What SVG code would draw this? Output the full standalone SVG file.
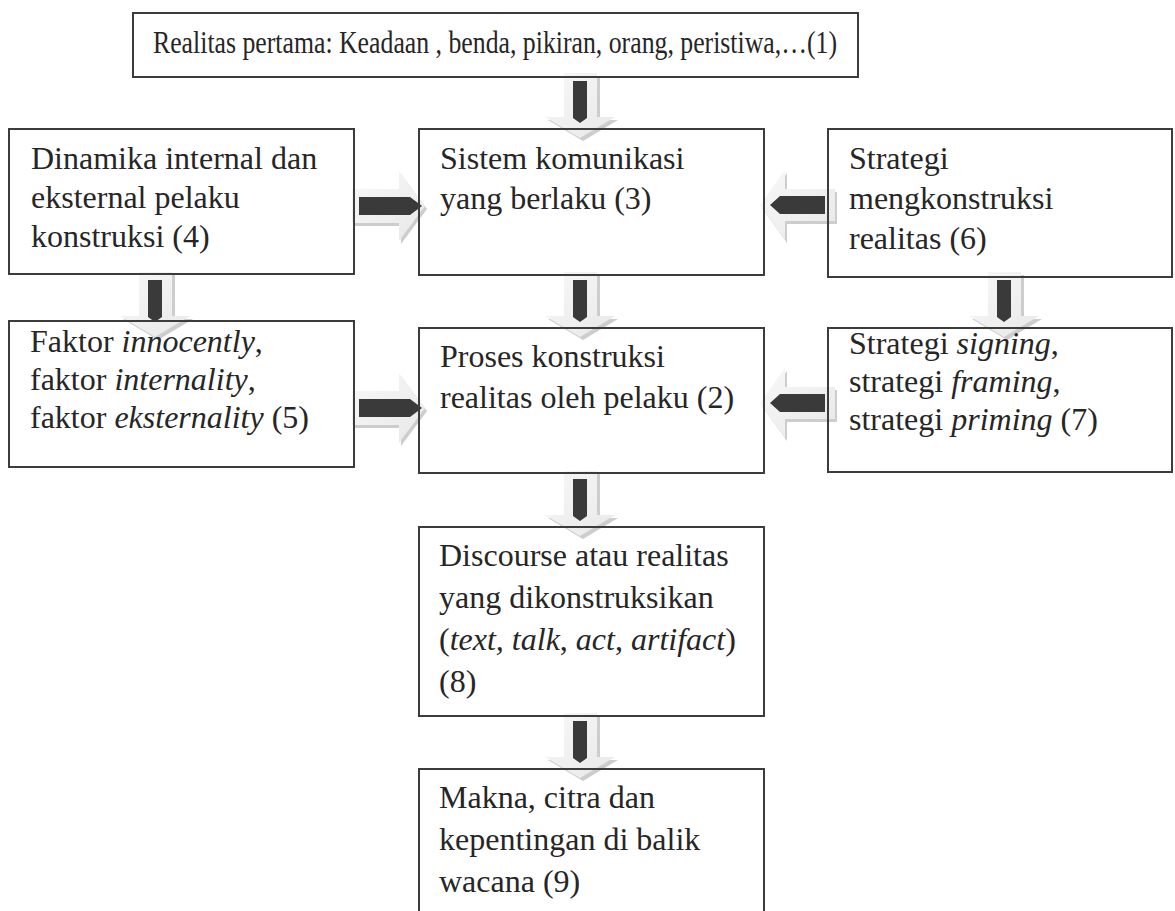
<svg xmlns="http://www.w3.org/2000/svg" width="1175" height="911" viewBox="0 0 1175 911">
<style>
.box{fill:none;stroke:#3c3c3c;stroke-width:2}
.t{font-family:"Liberation Serif","Times New Roman",serif;font-size:32px;fill:#262626}
.t1{font-family:"Liberation Serif","Times New Roman",serif;font-size:31px;fill:#262626}
.i{font-style:italic}
.sh{fill:#cdcdcd}
.out{fill:url(#lg)}
.in{fill:#3a3a3a}
</style>
<defs>
<linearGradient id="lg" x1="0" y1="0" x2="1" y2="1">
<stop offset="0" stop-color="#f8f8f8"/>
<stop offset="1" stop-color="#e8e8e8"/>
</linearGradient>
<g id="down">
<path class="sh" transform="translate(3,3)" d="M-16 0H17V44H35L0 65L-35 44H-16Z"/>
<path class="out" d="M-16 0H17V44H35L0 65L-35 44H-16Z"/>
<path class="in" d="M-7 8H7V45L0 50L-7 45Z"/>
</g>
<g id="right">
<path class="sh" transform="translate(2,3)" d="M0 -17H47V-35L73 0L47 35V17H0Z"/>
<path class="out" d="M0 -17H47V-35L73 0L47 35V17H0Z"/>
<path class="in" d="M7 -9H58L70 0L58 9H7Z"/>
</g>
<g id="left">
<path class="sh" transform="translate(2,3)" d="M0 0L25 -35V-16H75V16H25V35Z"/>
<path class="out" d="M0 0L25 -35V-16H75V16H25V35Z"/>
<path class="in" d="M10 0L20 -9H65V9H20Z"/>
</g>
</defs>
<rect width="1175" height="911" fill="#ffffff"/>
<g id="connectors">
<use href="#down" transform="translate(580,73)"/>
<use href="#down" transform="translate(155,272)"/>
<use href="#down" transform="translate(580,272)"/>
<use href="#down" transform="translate(1004,272)"/>
<use href="#down" transform="translate(580,471)"/>
<use href="#down" transform="translate(580,713)"/>
<use href="#right" transform="translate(352,206)"/>
<use href="#right" transform="translate(352,408)"/>
<use href="#left" transform="translate(760,205)"/>
<use href="#left" transform="translate(760,403)"/>
</g>
<g id="n1">
<rect class="box" x="133" y="13" width="725" height="64"/>
<text class="t1" x="153" y="53" textLength="684" lengthAdjust="spacingAndGlyphs">Realitas pertama: Keadaan , benda, pikiran, orang, peristiwa,…(1)</text>
</g>
<g id="n4">
<rect class="box" x="9" y="129" width="345" height="145"/>
<text class="t" x="31" y="169">Dinamika internal dan</text>
<text class="t" x="31" y="208">eksternal pelaku</text>
<text class="t" x="31" y="247">konstruksi (4)</text>
</g>
<g id="n3">
<rect class="box" x="419" y="129" width="345" height="146"/>
<text class="t" x="440" y="169">Sistem komunikasi</text>
<text class="t" x="440" y="209">yang berlaku (3)</text>
</g>
<g id="n6">
<rect class="box" x="828" y="129" width="344" height="148"/>
<text class="t" x="849" y="169">Strategi</text>
<text class="t" x="849" y="209">mengkonstruksi</text>
<text class="t" x="849" y="249">realitas (6)</text>
</g>
<g id="n5">
<rect class="box" x="9" y="321" width="345" height="146"/>
<text class="t" x="30" y="352">Faktor <tspan class="i">innocently</tspan>,</text>
<text class="t" x="30" y="390">faktor <tspan class="i">internality</tspan>,</text>
<text class="t" x="30" y="428">faktor <tspan class="i">eksternality</tspan> (5)</text>
</g>
<g id="n2">
<rect class="box" x="419" y="328" width="345" height="145"/>
<text class="t" x="440" y="367">Proses konstruksi</text>
<text class="t" x="440" y="408">realitas oleh pelaku (2)</text>
</g>
<g id="n7">
<rect class="box" x="828" y="328" width="344" height="144"/>
<text class="t" x="849" y="354">Strategi <tspan class="i">signing</tspan>,</text>
<text class="t" x="849" y="392">strategi <tspan class="i">framing</tspan>,</text>
<text class="t" x="849" y="430">strategi <tspan class="i">priming</tspan> (7)</text>
</g>
<g id="n8">
<rect class="box" x="419" y="527" width="345" height="189"/>
<text class="t" x="439" y="566">Discourse atau realitas</text>
<text class="t" x="439" y="608">yang dikonstruksikan</text>
<text class="t" x="439" y="650">(<tspan class="i">text, talk</tspan>, <tspan class="i">act</tspan>, <tspan class="i">artifact</tspan>)</text>
<text class="t" x="439" y="692">(8)</text>
</g>
<g id="n9">
<rect class="box" x="419" y="769" width="345" height="160"/>
<text class="t" x="439" y="808">Makna, citra dan</text>
<text class="t" x="439" y="850">kepentingan di balik</text>
<text class="t" x="439" y="892">wacana (9)</text>
</g>
</svg>
